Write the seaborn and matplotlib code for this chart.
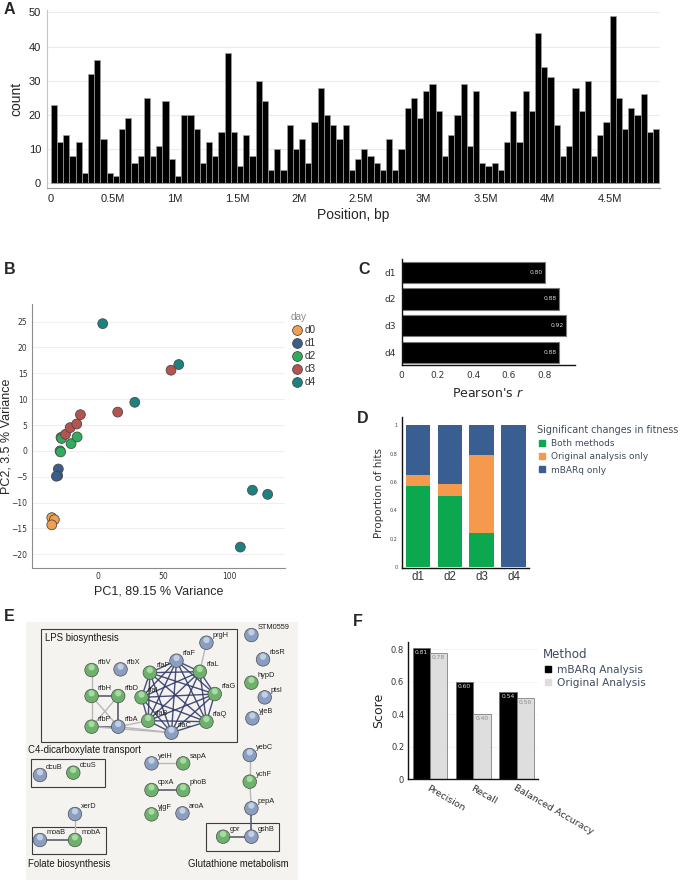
import itertools

import matplotlib.pyplot as plt
import pandas as pd
import seaborn as sns
from matplotlib.lines import Line2D
from matplotlib.patches import Rectangle

# --------------------------------------------
# DATA
# --------------------------------------------
# A: insertion counts per 50 kb window along the chromosome
BIN_WIDTH = 50_000
bin_counts = [
    23, 12, 14, 8, 12, 3, 32, 36, 13, 3, 2, 16, 19, 6, 8, 25, 8, 11, 24, 7,
    2, 20, 20, 16, 6, 12, 8, 15, 38, 15, 5, 14, 8, 30, 24, 4, 10, 4, 17, 10,
    13, 6, 18, 28, 20, 17, 13, 17, 4, 7, 10, 8, 6, 4, 13, 4, 10, 22, 25, 19,
    27, 29, 21, 8, 14, 20, 29, 11, 27, 6, 5, 6, 4, 12, 21, 12, 27, 21, 44, 34,
    31, 17, 8, 11, 28, 21, 30, 8, 14, 18, 49, 25, 16, 22, 20, 26, 15, 16,
]
pos_ticks = [0, 500_000, 1_000_000, 1_500_000, 2_000_000, 2_500_000,
             3_000_000, 3_500_000, 4_000_000, 4_500_000]
pos_tick_labels = ["0", "0.5M", "1M", "1.5M", "2M", "2.5M", "3M", "3.5M",
                   "4M", "4.5M"]

# B: PCA of samples
pca_day = ["d0"] * 3 + ["d1"] * 3 + ["d2"] * 6 + ["d3"] * 6 + ["d4"] * 6
pca_pc1 = [-35, -33, -35,
           -30, -30.5, -31.5,
           -28, -27.5, -28.7, -28.3, -20.3, -15.7,
           -24.6, -21, -16, -13.2, 15.2, 55.8,
           3.8, 61.7, 28.2, 117.8, 129.4, 108.6]
pca_pc2 = [-12.9, -13.3, -14.3,
           -3.5, -4.8, -4.9,
           2.6, 2.4, 0.0, -0.2, 1.4, 2.7,
           3.2, 4.5, 5.2, 7.0, 7.5, 15.6,
           24.6, 16.7, 9.4, -7.6, -8.4, -18.6]
day_levels = ["d0", "d1", "d2", "d3", "d4"]
day_colors = ["#F0A04E", "#3A5E8C", "#2EAE5C", "#B5544F", "#1B8280"]

# C: correlation per day
corr_days = ["d1", "d2", "d3", "d4"]
corr_r = [0.80, 0.88, 0.92, 0.88]

# D: proportion of hits
hit_days = ["d1", "d2", "d3", "d4"]
hit_both = [0.575, 0.50, 0.245, 0.0]
hit_orig_only = [0.073, 0.087, 0.544, 0.0]
hit_mbarq_only = [0.352, 0.413, 0.211, 1.0]
hit_labels = ["Both methods", "Original analysis only", "mBARq only"]
hit_colors = ["#0BA84F", "#F59A4D", "#385E92"]

# E: interaction network (layout coordinates of the drawing)
net_nodes = ["rfbV", "rfbX", "rfbH", "rfbD", "rfbP", "rfbA",
             "rfaP", "rfaF", "rfaL", "rfaI", "rfaG", "rfaB", "rfaQ", "rfaC",
             "prgH", "STM0559", "rbsR", "hypD", "ptsI", "yjeB",
             "yeiH", "sapA", "cpxA", "phoB", "yjgF", "aroA",
             "yebC", "ychF", "pepA", "gshB", "gor",
             "dcuB", "dcuS", "xerD", "moaB", "mobA"]
net_x = [275, 362, 275, 355, 275, 355,
         450, 530, 600, 425, 645, 445, 620, 515,
         620, 755, 790, 755, 795, 758,
         455, 550, 455, 550, 455, 548,
         750, 750, 755, 755, 670,
         120, 220, 225, 120, 225]
net_y = [240, 238, 318, 318, 410, 410,
         248, 212, 245, 322, 312, 392, 395, 428,
         158, 135, 208, 278, 322, 385,
         520, 520, 600, 600, 673, 670,
         495, 575, 655, 740, 740,
         555, 548, 672, 750, 750]
net_kind = ["g", "b", "g", "g", "g", "b",
            "g", "b", "g", "g", "g", "g", "g", "b",
            "b", "b", "b", "g", "b", "b",
            "b", "g", "g", "g", "g", "b",
            "b", "g", "b", "b", "g",
            "b", "g", "b", "b", "g"]
lps_core = ["rfaP", "rfaF", "rfaL", "rfaI", "rfaG", "rfaB", "rfaQ", "rfaC"]
strong_edges = [("rfbH", "rfbD"), ("rfbD", "rfbA"), ("rfbP", "rfbA"),
                ("cpxA", "phoB"), ("pepA", "gshB"), ("gor", "gshB"),
                ("moaB", "mobA")]
weak_edges = [("rfbV", "rfbH"), ("rfbH", "rfbP"), ("rfbH", "rfbA"),
              ("rfbD", "rfbP"), ("rfbA", "rfaB"), ("rfbA", "rfaC"),
              ("rfbP", "rfaC"), ("rfaL", "prgH"), ("yeiH", "sapA"),
              ("yebC", "ychF"), ("ychF", "pepA"), ("xerD", "mobA")]
group_names = ["LPS biosynthesis", "C4-dicarboxylate transport",
               "Folate biosynthesis", "Glutathione metabolism"]
group_boxes = [(122, 117, 712, 457), (92, 508, 315, 592),
               (97, 710, 318, 792), (618, 700, 838, 782)]
group_label_xy = [(135, 130), (85, 480), (85, 823), (565, 823)]

# F: benchmark scores
metric_names = ["Precision", "Recall", "Balanced Accuracy"]
score_mbarq = [0.81, 0.60, 0.54]
score_orig = [0.78, 0.40, 0.50]
method_names = ["mBARq Analysis", "Original Analysis"]
method_colors = ["#000000", "#DEDEDE"]

# --------------------------------------------
# LAYOUT HELPERS
# --------------------------------------------
W, H = 684, 882
HELV = ["Liberation Sans", "DejaVu Sans"]
DEJA = ["DejaVu Sans"]
SLATE = "#3E4C5E"

sns.set_style("white")
plt.rcParams["font.family"] = DEJA

fig = plt.figure(figsize=(W / 100, H / 100), dpi=100)


def px_axes(x0, y0, x1, y1):
    return fig.add_axes([x0 / W, 1 - y1 / H, (x1 - x0) / W, (y1 - y0) / H])


def panel_label(letter, x, y):
    fig.text(x / W, 1 - y / H, letter, ha="center", va="center",
             fontsize=11.5, fontweight="bold", family=HELV)


def fig_xy(x, y):
    return (x / W, 1 - y / H)


# --------------------------------------------
# A: insertion histogram
# --------------------------------------------
axA = px_axes(46.7, 10, 660, 188.3)
n_bins = len(bin_counts)
dfA = pd.DataFrame({
    "pos": [i * BIN_WIDTH + BIN_WIDTH / 2 for i in range(n_bins)],
    "n": bin_counts,
})
sns.histplot(data=dfA, x="pos", weights="n", binwidth=BIN_WIDTH,
             binrange=(0, n_bins * BIN_WIDTH), color="black",
             edgecolor="#a0a0a0", linewidth=0.5, alpha=1, ax=axA)
axA.set_xlim(-32_000, 4_906_000)
axA.set_ylim(-1.5, 50.7)
axA.set_xticks(pos_ticks)
axA.set_xticklabels(pos_tick_labels, family=HELV)
axA.set_yticks([0, 10, 20, 30, 40, 50])
axA.set_yticklabels(["0", "10", "20", "30", "40", "50"], family=HELV)
axA.yaxis.grid(True, color="#ececec", lw=0.8)
axA.set_axisbelow(True)
axA.tick_params(length=0, labelsize=8, pad=4, colors="#222222")
for s in ("top", "right"):
    axA.spines[s].set_visible(False)
axA.spines["left"].set_color("#c4c4c4")
axA.spines["bottom"].set_color("#9a9a9a")
axA.set_xlabel("Position, bp", fontsize=10, family=HELV, labelpad=3)
axA.set_ylabel("count", fontsize=10, family=HELV, labelpad=4)
panel_label("A", 9.5, 10)

# --------------------------------------------
# B: PCA
# --------------------------------------------
axB = px_axes(31.7, 304, 285, 568.3)
dfB = pd.DataFrame({"pc1": pca_pc1, "pc2": pca_pc2, "day": pca_day})
sns.scatterplot(data=dfB, x="pc1", y="pc2", hue="day", hue_order=day_levels,
                palette=day_colors, s=50, edgecolor="#4a4a4a", linewidth=0.6,
                ax=axB)
axB.set_xlim(-50.3, 142.6)
axB.set_ylim(-22.7, 28.4)
axB.set_xticks([0, 50, 100])
axB.set_yticks([-20, -15, -10, -5, 0, 5, 10, 15, 20, 25])
axB.yaxis.grid(True, color="#efefef", lw=0.8)
axB.set_axisbelow(True)
axB.tick_params(length=0, labelsize=5.5, pad=3, colors="#333333")
for s in ("top", "right"):
    axB.spines[s].set_visible(False)
for s in ("left", "bottom"):
    axB.spines[s].set_color("#8c8c8c")
axB.set_xlabel("PC1, 89.15 % Variance", fontsize=9, family=HELV, labelpad=3)
axB.set_ylabel("PC2, 3.5 % Variance", fontsize=9, family=HELV)
axB.yaxis.set_label_coords((13 - 31.7) / (285 - 31.7), 0.5)
legB = axB.legend(title="day", loc="upper left", frameon=False,
                  bbox_to_anchor=fig_xy(284, 305),
                  bbox_transform=fig.transFigure, fontsize=7.2,
                  title_fontsize=7.2, handletextpad=0.2, labelspacing=0.3,
                  handlelength=1.2, borderpad=0.2, alignment="left")
legB.get_title().set_color("#8a8a8a")
legB.get_title().set_family(HELV)
for t in legB.get_texts():
    t.set_family(HELV)
    t.set_color("#333333")
panel_label("B", 10, 270)

# --------------------------------------------
# C: Pearson's r
# --------------------------------------------
axC = px_axes(401.7, 258.9, 575, 365.5)
sns.barplot(x=corr_r, y=corr_days, orient="h", color="black", saturation=1,
            edgecolor="#7a7a7a", linewidth=0.8, width=0.8, ax=axC)
for i, v in enumerate(corr_r):
    axC.text(v - 0.012, i, f"{v:.2f}", ha="right", va="center",
             fontsize=4.3, color="#dcdcdc")
axC.set_xlim(0, 0.97)
axC.set_xticks([0, 0.2, 0.4, 0.6, 0.8])
axC.set_xticklabels(["0", "0.2", "0.4", "0.6", "0.8"])
axC.tick_params(length=0, labelsize=6.5, colors="#333333", pad=4)
for s in ("top", "right"):
    axC.spines[s].set_visible(False)
for s in ("left", "bottom"):
    axC.spines[s].set_color("#111111")
    axC.spines[s].set_linewidth(1.0)
axC.set_xlabel("Pearson's $r$", fontsize=9, labelpad=5)
axC.set_ylabel("")
panel_label("C", 364, 270)

# --------------------------------------------
# D: proportion of hits
# --------------------------------------------
axD = px_axes(401.7, 417.3, 529.3, 568.3)
top_layer = [a + b + c for a, b, c in zip(hit_both, hit_orig_only,
                                          hit_mbarq_only)]
mid_layer = [a + b for a, b in zip(hit_both, hit_orig_only)]
for vals, col in [(top_layer, hit_colors[2]), (mid_layer, hit_colors[1]),
                  (hit_both, hit_colors[0])]:
    sns.barplot(x=hit_days, y=vals, color=col, saturation=1, width=0.78,
                linewidth=0, ax=axD)
axD.set_xlim(-0.51, 3.48)
axD.set_ylim(-0.007, 1.056)
axD.set_yticks([0, 0.2, 0.4, 0.6, 0.8, 1])
axD.set_yticklabels(["0", "0.2", "0.4", "0.6", "0.8", "1"])
axD.tick_params(axis="y", length=1.5, width=0.5, labelsize=3.5, pad=1.5,
                colors="#444444")
axD.tick_params(axis="x", length=0, labelsize=8.3, pad=2, colors="#333333")
for lab in axD.get_xticklabels():
    lab.set_family(HELV)
for s in ("top", "right"):
    axD.spines[s].set_visible(False)
for s in ("left", "bottom"):
    axD.spines[s].set_color("#111111")
    axD.spines[s].set_linewidth(1.0)
axD.set_ylabel("Proportion of hits", fontsize=7.5, color="#333333",
               labelpad=4)
handlesD = [Line2D([], [], marker="s", ls="", color=c, markersize=4.2)
            for c in hit_colors]
legD = axD.legend(handlesD, hit_labels, title="Significant changes in fitness",
                  loc="upper left", frameon=False,
                  bbox_to_anchor=fig_xy(531, 419),
                  bbox_transform=fig.transFigure, fontsize=6.5,
                  title_fontsize=6.9, handletextpad=0.5, handlelength=1.0,
                  labelspacing=0.45, borderpad=0.2, alignment="left")
legD.get_title().set_color(SLATE)
for t in legD.get_texts():
    t.set_color(SLATE)
panel_label("D", 362.7, 418.3)

# --------------------------------------------
# E: interaction network
# --------------------------------------------
axE = px_axes(26, 621.7, 298, 880)
axE.set_facecolor("#F4F3F0")
axE.set_xlim(78, 895)
axE.set_ylim(870, 95)
for s in axE.spines.values():
    s.set_visible(False)
axE.set_xticks([])
axE.set_yticks([])

pos = {n: (x, y) for n, x, y in zip(net_nodes, net_x, net_y)}
for name, (x0, y0, x1, y1) in zip(group_names, group_boxes):
    axE.add_patch(Rectangle((x0, y0), x1 - x0, y1 - y0, fill=False,
                            edgecolor="#3c3c3c", lw=0.8, zorder=1))
for name, (tx, ty) in zip(group_names, group_label_xy):
    va = "top" if name == "LPS biosynthesis" else "center"
    axE.text(tx, ty, name, ha="left", va=va, fontsize=6.9, family=HELV,
             color="#1a1a1a")

for a, b in itertools.combinations(lps_core, 2):
    axE.plot([pos[a][0], pos[b][0]], [pos[a][1], pos[b][1]],
             color="#333C6B", lw=1.0, alpha=0.9, zorder=2)
for a, b in strong_edges:
    axE.plot([pos[a][0], pos[b][0]], [pos[a][1], pos[b][1]],
             color="#5a5f6e", lw=1.2, zorder=2)
for a, b in weak_edges:
    axE.plot([pos[a][0], pos[b][0]], [pos[a][1], pos[b][1]],
             color="#b8b8b8", lw=1.0, zorder=2)

dfE = pd.DataFrame({"x": net_x, "y": net_y, "kind": net_kind})
sns.scatterplot(data=dfE, x="x", y="y", hue="kind",
                palette={"g": "#6CB26A", "b": "#8A9EC2"}, s=95,
                edgecolor="#4d4d4d", linewidth=0.5, legend=False, zorder=3,
                ax=axE)
dfE["y_hi"] = dfE["y"] - 8
sns.scatterplot(data=dfE, x="x", y="y_hi", hue="kind",
                palette={"g": "#A9D9A4", "b": "#C3CFE3"}, s=20, linewidth=0,
                legend=False, zorder=4, ax=axE)
axE.set_xlabel("")
axE.set_ylabel("")
for n, (x, y) in pos.items():
    axE.annotate(n, (x, y), xytext=(4.5, 4), textcoords="offset points",
                 fontsize=5.3, family=HELV, color="#222222", zorder=5)
panel_label("E", 9.5, 616.7)

# --------------------------------------------
# F: benchmark
# --------------------------------------------
axF = px_axes(408.3, 641.7, 538.3, 779.3)
dfF = pd.DataFrame({
    "metric": metric_names * 2,
    "score": score_mbarq + score_orig,
    "method": [method_names[0]] * 3 + [method_names[1]] * 3,
})
sns.barplot(data=dfF, x="metric", y="score", hue="method",
            hue_order=method_names, palette=method_colors, saturation=1,
            width=0.8, edgecolor="#6a6a6a", linewidth=0.5, ax=axF)
for cont, tcol in zip(axF.containers, ["#e0e0e0", "#8a8a8a"]):
    for bar in cont:
        h = bar.get_height()
        axF.text(bar.get_x() + bar.get_width() / 2, h - 0.012, f"{h:.2f}",
                 ha="center", va="top", fontsize=4.3, color=tcol)
axF.set_xlim(-0.5, 2.5)
axF.set_ylim(0, 0.847)
axF.set_yticks([0, 0.2, 0.4, 0.6, 0.8])
axF.set_yticklabels(["0", "0.2", "0.4", "0.6", "0.8"])
axF.yaxis.grid(True, color="#f2f2f2", lw=0.6)
axF.set_axisbelow(True)
axF.tick_params(axis="y", length=0, labelsize=6, pad=3, colors="#333333")
axF.tick_params(axis="x", length=0, labelsize=6.8, pad=3, colors="#333333")
for lab in axF.get_xticklabels():
    lab.set_rotation(-30)
    lab.set_ha("left")
    lab.set_rotation_mode("anchor")
for s in ("top", "right"):
    axF.spines[s].set_visible(False)
for s in ("left", "bottom"):
    axF.spines[s].set_color("#111111")
    axF.spines[s].set_linewidth(1.0)
axF.set_xlabel("")
axF.set_ylabel("Score", fontsize=9, labelpad=4)
handlesF = [Line2D([], [], marker="s", ls="", color=c, markersize=4)
            for c in method_colors]
legF = axF.legend(handlesF, method_names, title="Method", loc="upper left",
                  frameon=False, bbox_to_anchor=fig_xy(535, 641),
                  bbox_transform=fig.transFigure, fontsize=7.6,
                  title_fontsize=8.6, handletextpad=0.4, handlelength=1.0,
                  labelspacing=0.3, borderpad=0.2, alignment="left")
legF.get_title().set_color(SLATE)
for t in legF.get_texts():
    t.set_color(SLATE)
panel_label("F", 358.3, 621.7)

fig.savefig("out.png", dpi=100)
